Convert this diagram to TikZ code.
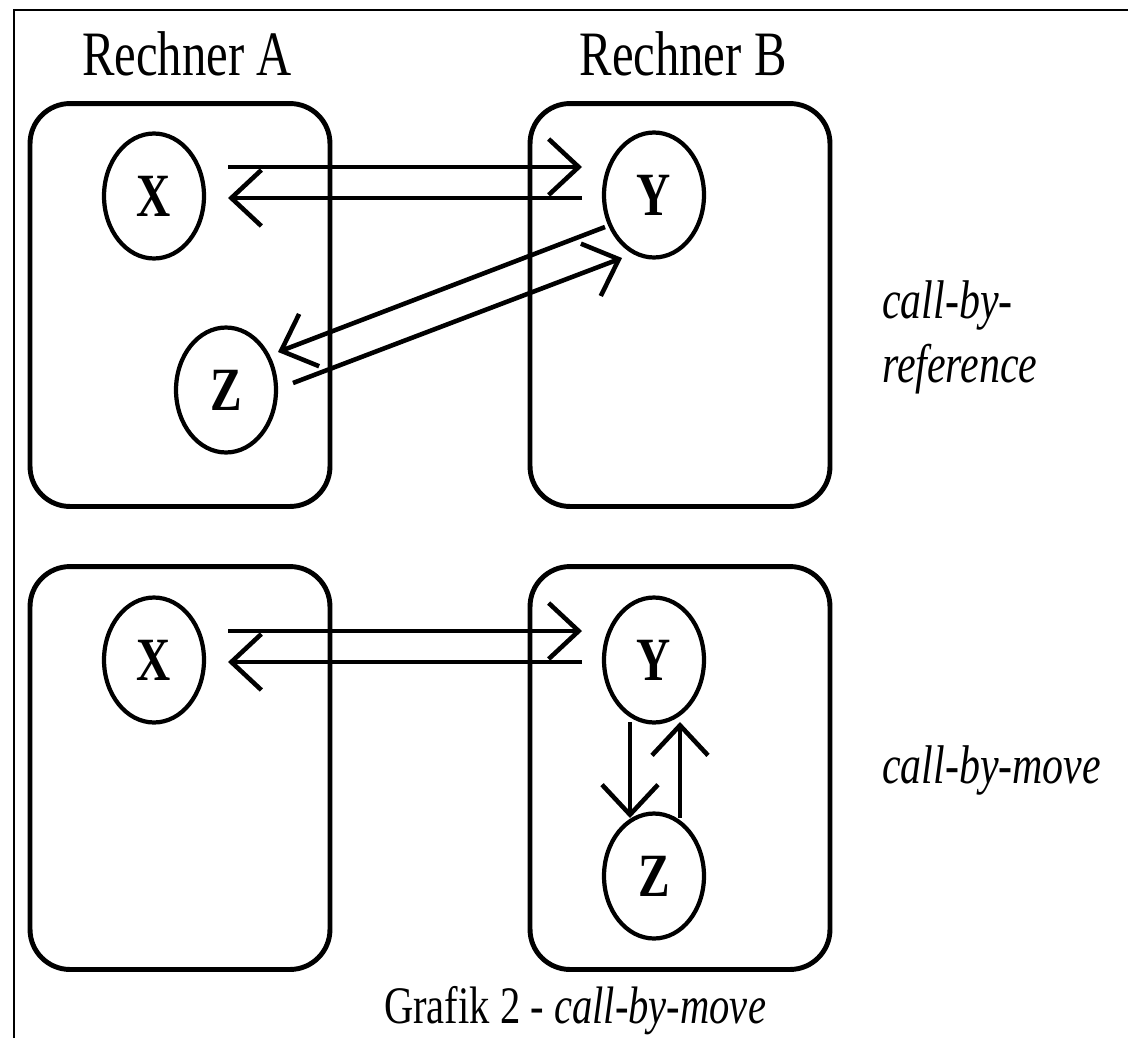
\documentclass[tikz,border=0pt]{standalone}
\usepackage{fontspec}
\setmainfont{Liberation Serif}
\usepackage{tikz}
\usetikzlibrary{shapes.geometric,arrows.meta}

\newcommand{\condtext}[1]{\scalebox{0.77}[1]{#1}}

\begin{document}
\begin{tikzpicture}[x=0.02cm, y=-0.02cm,
  box/.style={draw, line width=2.8pt, rounded corners=0.8cm, minimum width=6cm, minimum height=8.06cm, inner sep=0pt},
  proc/.style={ellipse, draw, line width=2.4pt, minimum width=2cm, minimum height=2.5cm, inner sep=0pt, font=\fontsize{35}{40}\selectfont\bfseries},
  lbl/.style={xscale=0.77, inner sep=0pt},
  arr/.style={line width=2.6pt, -{Straight Barb[length=0.6cm, width=1.12cm]}}]
  \useasboundingbox (0,0) rectangle (1128,1038);
  \draw[line width=1.1pt] (14,1038) -- (14,10) -- (1128,10);

  \node (ra) [lbl, anchor=base, font=\fontsize{36}{40}\selectfont] at (187,75) {Rechner A};
  \node (rb) [lbl, anchor=base, font=\fontsize{36}{40}\selectfont] at (683,75) {Rechner B};

  % call-by-reference
  \node (a1) [box] at (180,305) {};
  \node (b1) [box] at (680,305) {};
  \node (x1) [proc] at (154,196) {\condtext{X}};
  \node (y1) [proc] at (654,195) {\condtext{Y}};
  \node (z1) [proc] at (226,390) {\condtext{Z}};
  \draw[arr] ([shift={(74,-29)}]x1.center) -- ([shift={(-72,-28)}]y1.center);
  \draw[arr] ([shift={(-72,3)}]y1.center) -- ([shift={(74,2)}]x1.center);
  \draw[arr] ([shift={(-49,32)}]y1.center) -- ([shift={(52,-38)}]z1.center);
  \draw[arr] ([shift={(67,-7)}]z1.center) -- ([shift={(-32,63)}]y1.center);
  \node (cbr) [lbl, anchor=base west, align=left, font=\fontsize{31}{36}\selectfont\itshape] at (882,382) {call-by-\\reference};

  % call-by-move
  \node (a2) [box] at (180,768) {};
  \node (b2) [box] at (680,768) {};
  \node (x2) [proc] at (154,660) {\condtext{X}};
  \node (y2) [proc] at (654,660) {\condtext{Y}};
  \node (z2) [proc] at (654,876) {\condtext{Z}};
  \draw[arr] ([shift={(74,-29)}]x2.center) -- ([shift={(-72,-29)}]y2.center);
  \draw[arr] ([shift={(-72,2)}]y2.center) -- ([shift={(74,2)}]x2.center);
  \draw[arr] ([shift={(-24,62)}]y2.center) -- ([shift={(-24,-58)}]z2.center);
  \draw[arr] ([shift={(26,-58)}]z2.center) -- ([shift={(26,62)}]y2.center);
  \node (cbm) [lbl, anchor=base west, font=\fontsize{31}{36}\selectfont\itshape] at (882,783) {call-by-move};

  \node (cap) [lbl, anchor=base, font=\fontsize{30}{36}\selectfont] at (575,1023) {Grafik 2 - \textit{call-by-move}};
\end{tikzpicture}
\end{document}
